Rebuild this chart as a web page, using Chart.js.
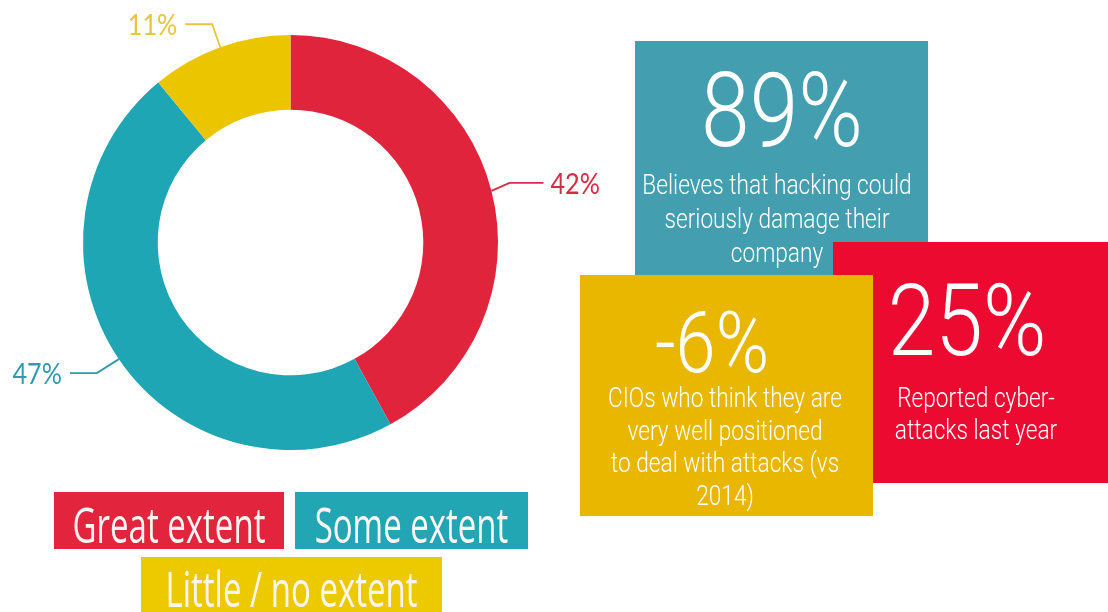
<!DOCTYPE html>
<html>
<head>
<meta charset="utf-8">
<script src="https://cdn.jsdelivr.net/npm/chart.js@4.4.1/dist/chart.umd.min.js"></script>
<style>
  html, body { margin: 0; padding: 0; background: #ffffff; }
  #wrap { position: relative; width: 1108px; height: 612px; }
</style>
</head>
<body>
<div id="wrap"><canvas id="chart" width="1108" height="612"></canvas></div>
<script>
// Survey answers: to what extent the business is exposed
const categories = ['Great extent', 'Some extent', 'Little / no extent'];
const shares = [42, 47, 11];
const sliceColors = ['#E0243C', '#1FA6B4', '#EBC500'];
const legendColors = ['#E2253D', '#22A6B4', '#EDCA00'];
const calloutColors = ['#D42C45', '#3199AD', '#E8C53A'];

// Headline figures shown in the coloured panels
const statFigures = ['89%', '25%', '-6%'];
const statCaptions = [
  ['Believes that hacking could', 'seriously damage their', 'company'],
  ['Reported cyber-', 'attacks last year'],
  ['CIOs who think they are', 'very well positioned', 'to deal with attacks (vs', '2014)']
];
const panelColors = ['#439EAF', '#EC0A30', '#E9B700'];

// Layout of the panels (drawn teal, red, then yellow on top)
const panelLayout = [
  { x: 635, y: 41, w: 293, h: 236, figX: 782, figY: 146, figSize: 103, capX: 777, capY: 194, capStep: 34 },
  { x: 833, y: 242, w: 275, h: 241, figX: 967, figY: 355, figSize: 101, capX: 976, capY: 407, capStep: 32 },
  { x: 580, y: 275, w: 293, h: 241, figX: 712, figY: 372, figSize: 85, capX: 725, capY: 407, capStep: 32.7 }
];

// Leader-line shape for each slice label: elbow offset and horizontal run
const calloutShape = [
  { dx: 18, dy: -8, run: 34, align: 'left' },
  { dx: -22, dy: 14, run: -27, align: 'right' },
  { dx: -8, dy: -23, run: -27, align: 'right' }
];

// Legend chips below the ring
const legendLayout = [
  { x: 54, y: 492, w: 230, h: 57, base: 543 },
  { x: 295, y: 492, w: 233, h: 57, base: 543 },
  { x: 141, y: 557, w: 301, h: 55, base: 607 }
];

function condensedText(ctx, text, x, y, sx, align) {
  ctx.save();
  ctx.translate(x, y);
  ctx.scale(sx, 1);
  ctx.textAlign = align || 'center';
  ctx.fillText(text, 0, 0);
  ctx.restore();
}

const decorations = {
  id: 'decorations',
  afterDatasetsDraw(chart) {
    const ctx = chart.ctx;
    const meta = chart.getDatasetMeta(0);
    const ds = chart.data.datasets[0];

    // slice callouts
    meta.data.forEach((arc, i) => {
      const p = arc.getProps(['x', 'y', 'startAngle', 'endAngle', 'outerRadius'], true);
      const mid = (p.startAngle + p.endAngle) / 2;
      const x0 = p.x + Math.cos(mid) * p.outerRadius;
      const y0 = p.y + Math.sin(mid) * p.outerRadius;
      const s = calloutShape[i];
      const x1 = x0 + s.dx, y1 = y0 + s.dy;
      const x2 = x1 + s.run;
      ctx.save();
      ctx.strokeStyle = calloutColors[i];
      ctx.lineWidth = 1.8;
      ctx.beginPath();
      ctx.moveTo(x0, y0);
      ctx.lineTo(x1, y1);
      ctx.lineTo(x2, y1);
      ctx.stroke();
      ctx.fillStyle = calloutColors[i];
      ctx.font = '28px Lato';
      ctx.textBaseline = 'middle';
      const tx = s.align === 'left' ? x2 + 7 : x2 - 8;
      condensedText(ctx, ds.data[i] + '%', tx, y1 + 2, 0.9, s.align);
      ctx.restore();
    });

    // legend chips
    chart.data.labels.forEach((label, i) => {
      const L = legendLayout[i];
      ctx.save();
      ctx.fillStyle = legendColors[i];
      ctx.fillRect(L.x, L.y, L.w, L.h);
      ctx.fillStyle = '#FFF6F4';
      ctx.font = '50px "Open Sans"';
      ctx.textBaseline = 'alphabetic';
      condensedText(ctx, label, L.x + L.w / 2, L.base, 0.66, 'center');
      ctx.restore();
    });

    // headline panels
    statFigures.forEach((fig, i) => {
      const P = panelLayout[i];
      ctx.save();
      ctx.fillStyle = panelColors[i];
      ctx.fillRect(P.x, P.y, P.w, P.h);
      ctx.fillStyle = '#FFFFFF';
      ctx.textBaseline = 'alphabetic';
      ctx.font = '300 ' + P.figSize + 'px Roboto';
      condensedText(ctx, fig, P.figX, P.figY, 0.85, 'center');
      ctx.font = '300 27px Roboto';
      statCaptions[i].forEach((line, k) => {
        condensedText(ctx, line, P.capX, P.capY + k * P.capStep, 0.84, 'center');
      });
      ctx.restore();
    });
  }
};

new Chart(document.getElementById('chart'), {
  type: 'doughnut',
  data: {
    labels: categories,
    datasets: [{
      data: shares,
      backgroundColor: sliceColors,
      borderWidth: 0
    }]
  },
  options: {
    responsive: false,
    animation: false,
    cutout: '64%',
    layout: { padding: { left: 83, top: 35, right: 610, bottom: 162 } },
    plugins: {
      legend: { display: false },
      tooltip: { enabled: false }
    }
  },
  plugins: [decorations]
});
</script>
</body>
</html>
